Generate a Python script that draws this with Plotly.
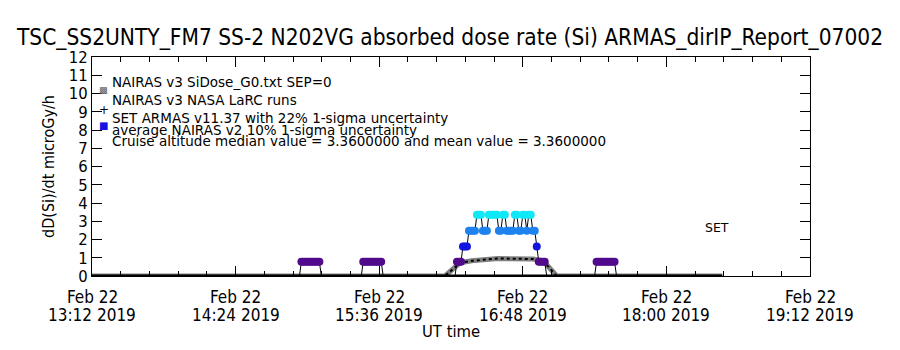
import plotly.graph_objects as go
import pandas as pd

COND = "DejaVu Sans Condensed, DejaVu Sans, sans-serif"
DJV = "DejaVu Sans, sans-serif"

t0 = pd.Timestamp("2019-02-22 13:12")

title_text = "TSC_SS2UNTY_FM7 SS-2 N202VG absorbed dose rate (Si) ARMAS_dirIP_Report_07002"
x_title = "UT time"
y_title = "dD(Si)/dt microGy/h"
tick_minutes = [0, 72, 144, 216, 288, 360]
tick_line1 = ["Feb 22", "Feb 22", "Feb 22", "Feb 22", "Feb 22", "Feb 22"]
tick_line2 = ["13:12 2019", "14:24 2019", "15:36 2019", "16:48 2019", "18:00 2019", "19:12 2019"]

# SET ARMAS measurements (minutes after 13:12, microGy/h); None separates segments
armas_min = [104, 105, 106, 107, 108, 109, 110, 111, 112, 113, 114, 115, None,
             135, 136, 137, 138, 139, 140, 141, 142, 143, 144, 145, 146, None,
             182, 183, 184, 185, 186, 187, 188, 189, 190, 191, 192, 193, 194, 195, 196, 197,
             198, 199, 200, 201, 202, 203, 204, 205, 206, 207, 208, 209, 210, 211, 212, 213,
             214, 215, 216, 217, 218, 219, 220, 221, 222, 223, 224, 225, 226, 227, 228, None,
             252, 253, 254, 255, 256, 257, 258, 259, 260, 261, 262, 263]
armas_val = [0, .78, .78, .78, .78, .78, .78, .78, .78, .78, .78, 0, None,
             0, .78, .78, .78, .78, .78, .78, .78, .78, .78, .78, 0, None,
             0, .78, .78, .78, 1.62, 1.62, 1.62, 2.48, 2.48, 2.48, 2.48, 3.36, 3.36, 3.36, 2.48, 2.48,
             2.48, 3.36, 3.36, 3.36, 3.36, 3.36, 2.48, 2.48, 3.36, 3.36, 2.48, 2.48, 2.48, 2.48, 3.36, 3.36,
             2.48, 2.48, 3.36, 3.36, 2.48, 3.36, 3.36, 2.48, 2.48, 1.62, .78, .78, .78, .78, 0, None,
             0, .78, .78, .78, .78, .78, .78, .78, .78, .78, .78, 0]

# NAIRAS v3 SiDose_G0 model curve
nairas_min = [0, 177, 184.6, 190.4, 203.6, 221.2, 226.2, 233, 316]
nairas_val = [0.0, 0.0, 0.73, 0.83, 0.96, 0.93, 0.83, 0.0, 0.0]

# NAIRAS v3 NASA LaRC runs
larc_min = [0, 316]
larc_val = [0.0, 0.0]

legend_lines = ["NAIRAS v3 SiDose_G0.txt SEP=0",
                "NAIRAS v3 NASA LaRC runs",
                "SET ARMAS v11.37 with 22% 1-sigma uncertainty",
                "average NAIRAS v2 10% 1-sigma uncertainty",
                "Cruise altitude median value = 3.3600000 and mean value = 3.3600000"]
set_label = "SET"


def tm(mins):
    return [None if m is None else t0 + pd.Timedelta(minutes=m) for m in mins]


PL, PR, PT, PB = 92, 810, 57, 276


def px(x):
    return (x - PL) / (PR - PL)


def py(y):
    return (PB - y) / (PB - PT)


fig = go.Figure()

# LaRC baseline
fig.add_trace(go.Scatter(x=tm(larc_min), y=larc_val, mode="lines",
                         line=dict(color="black", width=3), cliponaxis=False))

# NAIRAS hatched curve
fig.add_trace(go.Scatter(x=tm(nairas_min), y=nairas_val, mode="lines",
                         line=dict(color="rgba(0,0,0,0.5)", width=5), cliponaxis=False))
fig.add_trace(go.Scatter(x=tm(nairas_min), y=nairas_val, mode="lines",
                         line=dict(color="black", width=2, dash="dot"), cliponaxis=False))

# ARMAS line
fig.add_trace(go.Scatter(x=tm(armas_min), y=armas_val, mode="lines",
                         line=dict(color="black", width=1), connectgaps=False))

# ARMAS markers (non-zero values), coloured by value
mk_x = [m for m, v in zip(armas_min, armas_val) if v]
mk_y = [v for v in armas_val if v]
cscale = [[0.0, "#3c0064"], [0.232, "#520a8c"], [0.482, "#1414e0"],
          [0.738, "#1e82f0"], [1.0, "#10e8f8"]]
fig.add_trace(go.Scatter(x=tm(mk_x), y=mk_y, mode="markers",
                         marker=dict(symbol="circle", size=8, color=mk_y, colorscale=cscale,
                                     cmin=0, cmax=3.36, line=dict(width=0))))

ann = []
ys = [82, 100, 118, 130, 141]
for txt, yy in zip(legend_lines, ys):
    ann.append(dict(text=txt, x=px(110), y=py(yy), xref="paper", yref="paper",
                    xanchor="left", yanchor="middle", showarrow=False,
                    font=dict(family=DJV, size=13.5, color="black")))
# legend symbols
ann.append(dict(text="▩", x=px(97), y=py(83), xref="paper", yref="paper", showarrow=False,
                font=dict(family=DJV, size=9, color="#555")))
ann.append(dict(text="+", x=px(97), y=py(101), xref="paper", yref="paper", showarrow=False,
                font=dict(family=DJV, size=12, color="black")))
ann.append(dict(text="■", x=px(97), y=py(118), xref="paper", yref="paper", showarrow=False,
                font=dict(family=DJV, size=10, color="#1414e0")))
ann.append(dict(text=set_label, x=px(731), y=py(237), xref="paper", yref="paper",
                showarrow=False, font=dict(family=DJV, size=12.5, color="black")))
# x tick labels (two lines) placed at the tick positions on the date axis
for m, l1, l2 in zip(tm(tick_minutes), tick_line1, tick_line2):
    ann.append(dict(text=l1, x=m, xref="x", y=py(297), yref="paper", yanchor="middle",
                    showarrow=False, font=dict(family=COND, size=17, color="black")))
    ann.append(dict(text=l2, x=m, xref="x", y=py(315), yref="paper", yanchor="middle",
                    showarrow=False, font=dict(family=COND, size=17, color="black")))
ann.append(dict(text=x_title, x=0.5, xref="paper", y=py(331), yref="paper", yanchor="middle",
                showarrow=False, font=dict(family=COND, size=16.5, color="black")))

fig.update_layout(
    width=900, height=350,
    margin=dict(l=PL, r=900 - PR, t=PT, b=350 - PB),
    plot_bgcolor="white", paper_bgcolor="white", showlegend=False,
    title=dict(text=title_text, x=0.5, xanchor="center", y=1 - 37 / 350, yanchor="middle",
               font=dict(family=COND, size=22.5, color="black")),
    annotations=ann,
    xaxis=dict(type="date", range=[t0, t0 + pd.Timedelta(minutes=360)],
               tickvals=tm(tick_minutes), showticklabels=False,
               ticks="inside", ticklen=10, tickcolor="black", showline=True, linecolor="black",
               mirror="ticks", showgrid=False, zeroline=False,
               minor=dict(ticks="inside", ticklen=5, tickcolor="black",
                          dtick=14.4 * 60 * 1000, tick0=t0)),
    yaxis=dict(range=[0, 12], dtick=1, ticks="inside", ticklen=10, tickcolor="black",
               showline=True, linecolor="black", mirror="ticks", showgrid=False, zeroline=False,
               tickfont=dict(family=COND, size=16.5, color="black"),
               title=dict(text=y_title, standoff=10, font=dict(family=COND, size=16, color="black"))),
)

fig.write_html("out.html")
